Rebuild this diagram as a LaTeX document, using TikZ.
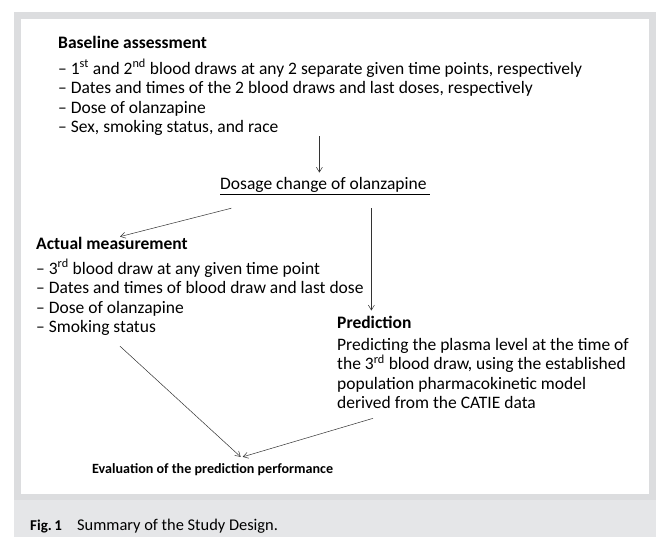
\documentclass[tikz,border=0pt]{standalone}
\usepackage{fontspec}
\setmainfont{Carlito}
\usetikzlibrary{arrows.meta}
\definecolor{framegray}{RGB}{220,221,223}
\definecolor{capgray}{RGB}{229,230,232}
\tikzset{
    txt/.style={inner sep=0pt, align=left, anchor=base west, font=\fontsize{17.5}{19.6}\selectfont},
    conn/.style={draw=black!80, line width=0.5pt, -{Straight Barb[length=5pt,width=6pt]}}
}
\begin{document}
\begin{tikzpicture}[x=1pt,y=-1pt]
    \useasboundingbox (0,0) rectangle (657,537);
    \fill[framegray] (14,12) rectangle (656,500);
    \fill[white] (21,19) rectangle (649,494);
    \fill[capgray] (14,500) rectangle (656,537);

    % text blocks, anchored at the baseline of their last line
    \node[txt] (base) at (58,133) {\textbf{Baseline assessment}\\[6pt]
        – 1\textsuperscript{st} and 2\textsuperscript{nd} blood draws at any 2 separate given time points, respectively\\
        – Dates and times of the 2 blood draws and last doses, respectively\\
        – Dose of olanzapine\\
        – Sex, smoking status, and race};
    \node[txt, inner ysep=1pt] (dosage) at (220,190) {Dosage change of olanzapine};
    \draw[line width=0.8pt] (dosage.south west) -- ([xshift=3pt]dosage.south east);

    \node[txt] (actual) at (36,333) {\textbf{Actual measurement}\\[5.5pt]
        – 3\textsuperscript{rd} blood draw at any given time point\\
        – Dates and times of blood draw and last dose\\
        – Dose of olanzapine\\
        – Smoking status};
    \node[txt] (pred) at (337,409) {\textbf{Prediction}\\[2.5pt]
        Predicting the plasma level at the time of\\
        the 3\textsuperscript{rd} blood draw, using the established\\
        population pharmacokinetic model\\
        derived from the CATIE data};
    \node[txt, font=\fontsize{14.1}{16}\selectfont\bfseries] (eval) at (92,474) {Evaluation of the prediction performance};

    \node[txt, font=\fontsize{15}{16}\selectfont\bfseries] (fig) at (30,531) {Fig.\,1};
    \node[txt, font=\fontsize{16.4}{16}\selectfont] (cap) at (77,531) {Summary of the Study Design.};

    % connectors
    \draw[conn] ([xshift=-4pt]base.south -| dosage.north) -- ([xshift=-4pt,yshift=4pt]dosage.north);
    \draw[conn] ([xshift=-92pt,yshift=-14pt]dosage.south) -- ([xshift=84pt]actual.north west);
    \draw[conn, shorten <=14pt, shorten >=5pt] ([xshift=48pt]dosage.south) -- ([xshift=48pt]dosage.south |- pred.north);
    \draw[conn] ([xshift=84pt,yshift=-10pt]actual.south west) -- ([xshift=28pt,yshift=7pt]eval.north);
    \draw[conn] ([xshift=36pt,yshift=-9pt]pred.south west) -- ([xshift=30pt,yshift=7pt]eval.north);
\end{tikzpicture}
\end{document}
